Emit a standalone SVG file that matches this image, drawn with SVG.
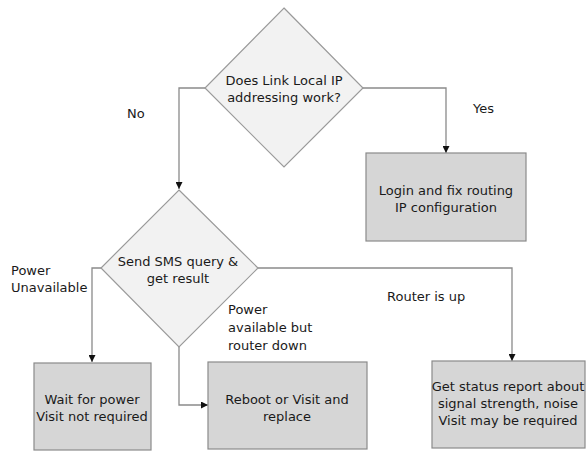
<svg xmlns="http://www.w3.org/2000/svg" width="586" height="451" viewBox="0 0 586 451">
<defs>
<style>
.dia{fill:#f2f2f2;stroke:#9a9a9a;stroke-width:1.2}
.box{fill:#d6d6d6;stroke:#8a8a8a;stroke-width:1.2}
.t{font-family:"DejaVu Sans",Verdana,sans-serif;font-size:13px;fill:#1a1a1a}
.c{text-anchor:middle}
.ln{fill:none;stroke:#8a8a8a;stroke-width:1.3}
</style>
<marker id="ah" viewBox="0 0 10 10" refX="10" refY="5" markerWidth="7" markerHeight="7" orient="auto" markerUnits="userSpaceOnUse">
<path d="M0,0 L10,5 L0,10 z" fill="#111"/>
</marker>
</defs>
<rect width="586" height="451" fill="#fff"/>
<g id="connectors">
<polyline class="ln" points="205,88 179,88 179,189" marker-end="url(#ah)"/>
<polyline class="ln" points="363,88 446,88 446,153" marker-end="url(#ah)"/>
<polyline class="ln" points="101,268 92,268 92,362" marker-end="url(#ah)"/>
<polyline class="ln" points="179,347 179,405 208,405" marker-end="url(#ah)"/>
<polyline class="ln" points="258,268 512,268 512,361" marker-end="url(#ah)"/>
<text class="t" x="127" y="118">No</text>
<text class="t" x="473" y="113">Yes</text>
<text class="t" x="11" y="275">Power</text>
<text class="t" x="11" y="292">Unavailable</text>
<text class="t" x="228" y="314">Power</text>
<text class="t" x="228" y="332">available but</text>
<text class="t" x="228" y="350">router down</text>
<text class="t" x="387" y="301">Router is up</text>
</g>
<g id="q1">
<polygon class="dia" points="284,8 363,88 284,167 205,88"/>
<text class="t c" x="284" y="85">Does Link Local IP</text>
<text class="t c" x="284" y="102">addressing work?</text>
</g>
<g id="login">
<rect class="box" x="366" y="153" width="160" height="88"/>
<text class="t c" x="446" y="195">Login and fix routing</text>
<text class="t c" x="446" y="212">IP configuration</text>
</g>
<g id="q2">
<polygon class="dia" points="179,190 258,268 179,347 101,268"/>
<text class="t c" x="178" y="266">Send SMS query &amp;</text>
<text class="t c" x="178" y="283">get result</text>
</g>
<g id="wait">
<rect class="box" x="34" y="363" width="117" height="87"/>
<text class="t c" x="92" y="404">Wait for power</text>
<text class="t c" x="92" y="421">Visit not required</text>
</g>
<g id="reboot">
<rect class="box" x="208" y="362" width="159" height="87"/>
<text class="t c" x="287" y="404">Reboot or Visit and</text>
<text class="t c" x="287" y="421">replace</text>
</g>
<g id="status">
<rect class="box" x="432" y="361" width="153" height="87"/>
<text class="t c" x="508" y="391">Get status report about</text>
<text class="t c" x="508" y="408">signal strength, noise</text>
<text class="t c" x="508" y="425">Visit may be required</text>
</g>
</svg>
